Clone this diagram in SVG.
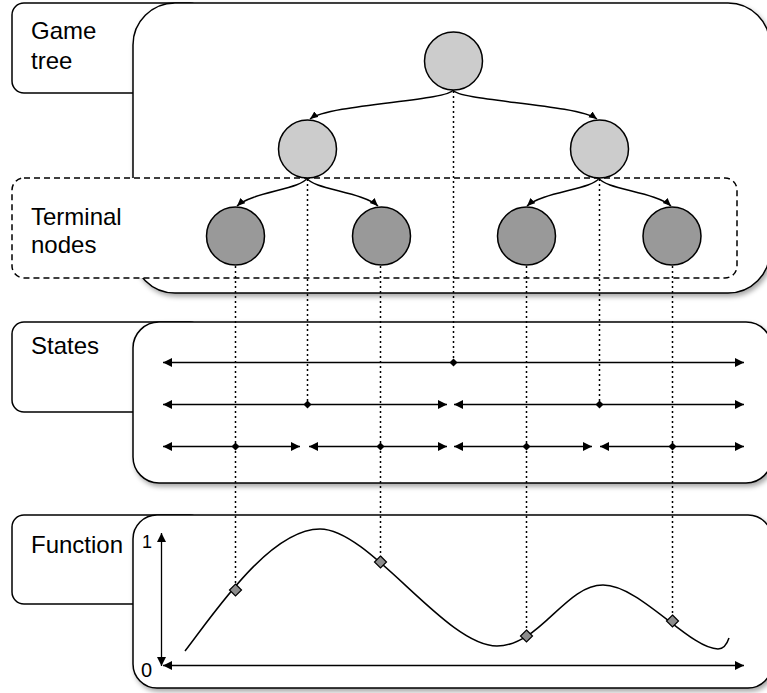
<svg xmlns="http://www.w3.org/2000/svg" width="767" height="693" viewBox="0 0 767 693">
  <style>
    .box { fill: #fff; stroke: #000; stroke-width: 1.5; }
    .panel { fill: #fff; stroke: #000; stroke-width: 1.5; filter: url(#shadow); }
    .dash { fill: #fff; stroke: #000; stroke-width: 1.5; stroke-dasharray: 6 4; }
    .lbl { font-family: "Liberation Sans", Arial, Helvetica, sans-serif; font-size: 24px; fill: #000; }
    .axl { font-family: "Liberation Sans", Arial, Helvetica, sans-serif; fill: #000; }
    .inner { fill: #ccc; stroke: #000; stroke-width: 1.5; }
    .leaf { fill: #999; stroke: #000; stroke-width: 1.5; }
    .dot { fill: none; stroke: #000; stroke-width: 1.5; stroke-dasharray: 2 3; }
    .edge { fill: none; stroke: #000; stroke-width: 1.5; marker-end: url(#tip); }
    .arr { fill: none; stroke: #000; stroke-width: 1.3; marker-start: url(#head); marker-end: url(#head); }
    .curve { fill: none; stroke: #000; stroke-width: 1.5; }
    .pt { fill: #000; }
    .mark { fill: #8c8c8c; stroke: #000; stroke-width: 1.2; }
  </style>
  <defs>
    <filter id="shadow" x="-5%" y="-5%" width="115%" height="120%">
      <feDropShadow dx="2" dy="3" stdDeviation="2.5" flood-color="#000" flood-opacity="0.35"/>
    </filter>
    <marker id="head" markerUnits="userSpaceOnUse" markerWidth="10" markerHeight="10" refX="9" refY="4.5" orient="auto-start-reverse">
      <path d="M0,0 L9,4.5 L0,9 z" fill="#000"/>
    </marker>
    <marker id="tip" markerUnits="userSpaceOnUse" markerWidth="9" markerHeight="9" refX="8" refY="3.5" orient="auto">
      <path d="M0,0 L8,3.5 L0,7 z" fill="#000"/>
    </marker>
  </defs>

  <!-- side labels -->
  <g id="label-game-tree">
    <rect class="box" x="12" y="3" width="190" height="90" rx="12"/>
  </g>
  <g id="label-states">
    <rect class="box" x="12" y="322" width="190" height="90" rx="12"/>
  </g>
  <g id="label-function">
    <rect class="box" x="12" y="515" width="190" height="89" rx="12"/>
  </g>

  <!-- panels -->
  <g id="panel-game-tree">
    <rect class="panel" x="133" y="3" width="637" height="290" rx="42"/>
  </g>
  <g id="panel-states">
    <rect class="panel" x="133" y="322" width="639" height="161" rx="26"/>
  </g>
  <g id="panel-function">
    <rect class="panel" x="133" y="515" width="639" height="173" rx="24"/>
  </g>

  <!-- terminal-node band -->
  <g id="terminal-band">
    <rect class="dash" x="12" y="178" width="725" height="100" rx="12"/>
  </g>

  <g id="connectors">
    <!-- projections down to states and function -->
    <line class="dot" x1="453.5" y1="91" x2="453.5" y2="362"/>
    <line class="dot" x1="307.5" y1="179" x2="307.5" y2="404"/>
    <line class="dot" x1="599.5" y1="179" x2="599.5" y2="404"/>
    <line class="dot" x1="235.5" y1="266" x2="235.5" y2="585"/>
    <line class="dot" x1="380.5" y1="266" x2="380.5" y2="557"/>
    <line class="dot" x1="526.5" y1="266" x2="526.5" y2="631"/>
    <line class="dot" x1="672.5" y1="266" x2="672.5" y2="616"/>

    <!-- tree edges -->
    <path class="edge" d="M453,90 C448,101 330,104 310,119"/>
    <path class="edge" d="M453,90 C458,101 576,104 597,119"/>
    <path class="edge" d="M307,178 C302,189 252,192 237,206"/>
    <path class="edge" d="M307,178 C312,189 363,192 378,206"/>
    <path class="edge" d="M599,178 C594,189 542,192 527,206"/>
    <path class="edge" d="M599,178 C604,189 656,192 671,206"/>

    <!-- state intervals -->
    <line class="arr" x1="163" y1="362.5" x2="744" y2="362.5"/>
    <line class="arr" x1="163" y1="404.5" x2="447" y2="404.5"/>
    <line class="arr" x1="454" y1="404.5" x2="744" y2="404.5"/>
    <line class="arr" x1="163" y1="446.5" x2="300" y2="446.5"/>
    <line class="arr" x1="309" y1="446.5" x2="447" y2="446.5"/>
    <line class="arr" x1="454" y1="446.5" x2="592" y2="446.5"/>
    <line class="arr" x1="600" y1="446.5" x2="744" y2="446.5"/>

    <!-- axes -->
    <line class="arr" x1="161.5" y1="533" x2="161.5" y2="666"/>
    <line class="arr" x1="163" y1="665.5" x2="744" y2="665.5" style="marker-start:url(#head)"/>

    <!-- function curve -->
    <path class="curve" d="M185,651 C215,612 270,529 320,529 C370,529 445,646 497,646 C540,646 565,585 603,585 C640,585 690,649 718,649 C724,649 727,644 729,638"/>
  </g>

  <!-- state split points -->
  <g id="state-points">
    <path class="pt" d="M453.5,358.5 l4,4 l-4,4 l-4,-4 z"/>
    <path class="pt" d="M307.5,400.5 l4,4 l-4,4 l-4,-4 z"/>
    <path class="pt" d="M599.5,400.5 l4,4 l-4,4 l-4,-4 z"/>
    <path class="pt" d="M235.5,442.5 l4,4 l-4,4 l-4,-4 z"/>
    <path class="pt" d="M380.5,442.5 l4,4 l-4,4 l-4,-4 z"/>
    <path class="pt" d="M526.5,442.5 l4,4 l-4,4 l-4,-4 z"/>
    <path class="pt" d="M672.5,442.5 l4,4 l-4,4 l-4,-4 z"/>
  </g>

  <!-- tree nodes -->
  <g id="node-root"><circle class="inner" cx="453.5" cy="61" r="29"/></g>
  <g id="node-l"><circle class="inner" cx="307.5" cy="149" r="29"/></g>
  <g id="node-r"><circle class="inner" cx="599.5" cy="149" r="29"/></g>
  <g id="node-ll"><circle class="leaf" cx="235.5" cy="236" r="29"/></g>
  <g id="node-lr"><circle class="leaf" cx="381.5" cy="236" r="29"/></g>
  <g id="node-rl"><circle class="leaf" cx="526.5" cy="236" r="29"/></g>
  <g id="node-rr"><circle class="leaf" cx="672" cy="236" r="29"/></g>

  <!-- function values at terminal nodes -->
  <g id="values">
    <path class="mark" d="M235.5,584 l6,6 l-6,6 l-6,-6 z"/>
    <path class="mark" d="M380.5,556 l6,6 l-6,6 l-6,-6 z"/>
    <path class="mark" d="M526.5,630 l6,6 l-6,6 l-6,-6 z"/>
    <path class="mark" d="M672.5,615 l6,6 l-6,6 l-6,-6 z"/>
  </g>

  <!-- texts -->
  <text class="lbl" x="31" y="39">Game</text>
  <text class="lbl" x="31" y="69">tree</text>
  <text class="lbl" x="31" y="225">Terminal</text>
  <text class="lbl" x="31" y="253">nodes</text>
  <text class="lbl" x="31" y="354">States</text>
  <text class="lbl" x="31" y="553">Function</text>
  <text class="axl" x="142" y="548" font-size="18">1</text>
  <text class="axl" x="141" y="677" font-size="20">0</text>
</svg>
